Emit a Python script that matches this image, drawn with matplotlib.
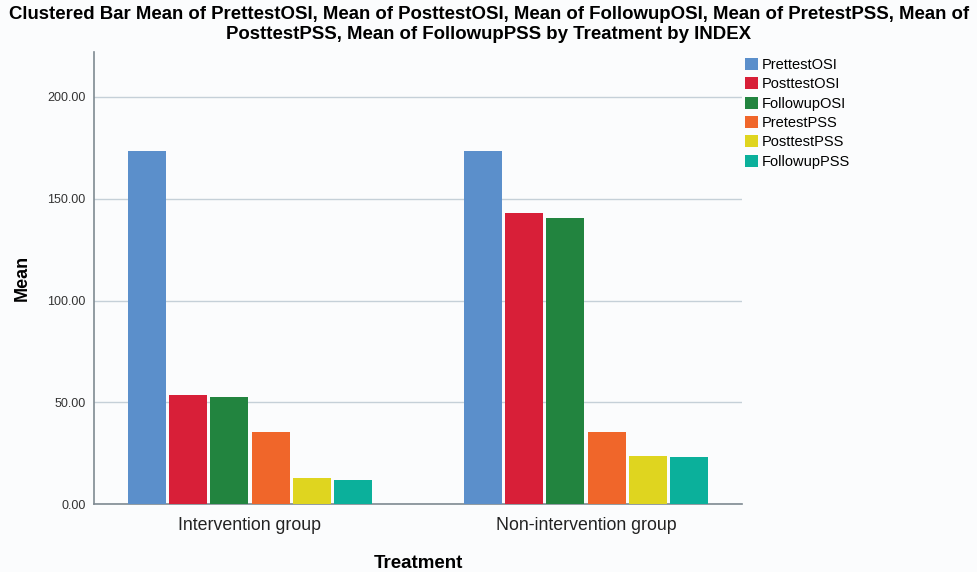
import numpy as np
import matplotlib.pyplot as plt

# --- DATA ---
groups = ["Intervention group", "Non-intervention group"]
series = ["PrettestOSI", "PosttestOSI", "FollowupOSI", "PretestPSS", "PosttestPSS", "FollowupPSS"]
intervention = [173.2, 53.7, 52.7, 35.3, 12.7, 11.9]
non_intervention = [173.2, 143.0, 140.7, 35.3, 23.7, 23.0]
colors = ["#5b8fcb", "#d81f38", "#22843f", "#f0662a", "#dfd51f", "#0bb09b"]
yticks = [0, 50, 100, 150, 200]

plt.rcParams["font.family"] = ["Liberation Sans", "DejaVu Sans"]

fig = plt.figure(figsize=(9.78, 5.72), dpi=100, facecolor="#fbfcfd")
ax = fig.add_axes([0.0961, 0.1184, 0.6626, 0.7906])
ax.set_facecolor("#fbfcfd")

x = np.arange(len(groups))
pitch = 0.123
width = 0.113
values = np.array([intervention, non_intervention])
for i, name in enumerate(series):
    ax.bar(x + (i - 2.5) * pitch, values[:, i], width=width, color=colors[i],
           label=name, zorder=3)

# --- AXES ---
ax.set_xlim(-0.464, 1.464)
ax.set_ylim(0, 222)
ax.set_yticks(yticks)
ax.set_yticklabels([f"{v:.2f}" for v in yticks], fontsize=9, color="#333333")
ax.set_xticks(x)
ax.set_xticklabels(groups, fontsize=12.8, color="#222222")
ax.tick_params(axis="both", length=0, pad=6)
ax.tick_params(axis="x", pad=9)
ax.grid(axis="y", color="#c5d0d8", linewidth=1.0, zorder=0)
for side in ["top", "right"]:
    ax.spines[side].set_visible(False)
for side in ["left", "bottom"]:
    ax.spines[side].set_color("#7f8a92")
    ax.spines[side].set_linewidth(1.2)

ax.set_ylabel("Mean", fontsize=13, fontweight="bold", labelpad=12)
ax.set_xlabel("Treatment", fontsize=13.5, fontweight="bold", labelpad=15)

fig.suptitle("Clustered Bar Mean of PrettestOSI, Mean of PosttestOSI, Mean of FollowupOSI, "
             "Mean of PretestPSS, Mean of\nPosttestPSS, Mean of FollowupPSS by Treatment by INDEX",
             fontsize=13.4, fontweight="bold", y=0.99, linespacing=1.25)

# --- LEGEND ---
ax.legend(loc="upper left", bbox_to_anchor=(0.995, 1.0), frameon=False,
          fontsize=10.5, handlelength=0.9, handleheight=0.9, handletextpad=0.3,
          labelspacing=0.36, borderaxespad=0)

fig.savefig("out.png", dpi=100, facecolor=fig.get_facecolor())
